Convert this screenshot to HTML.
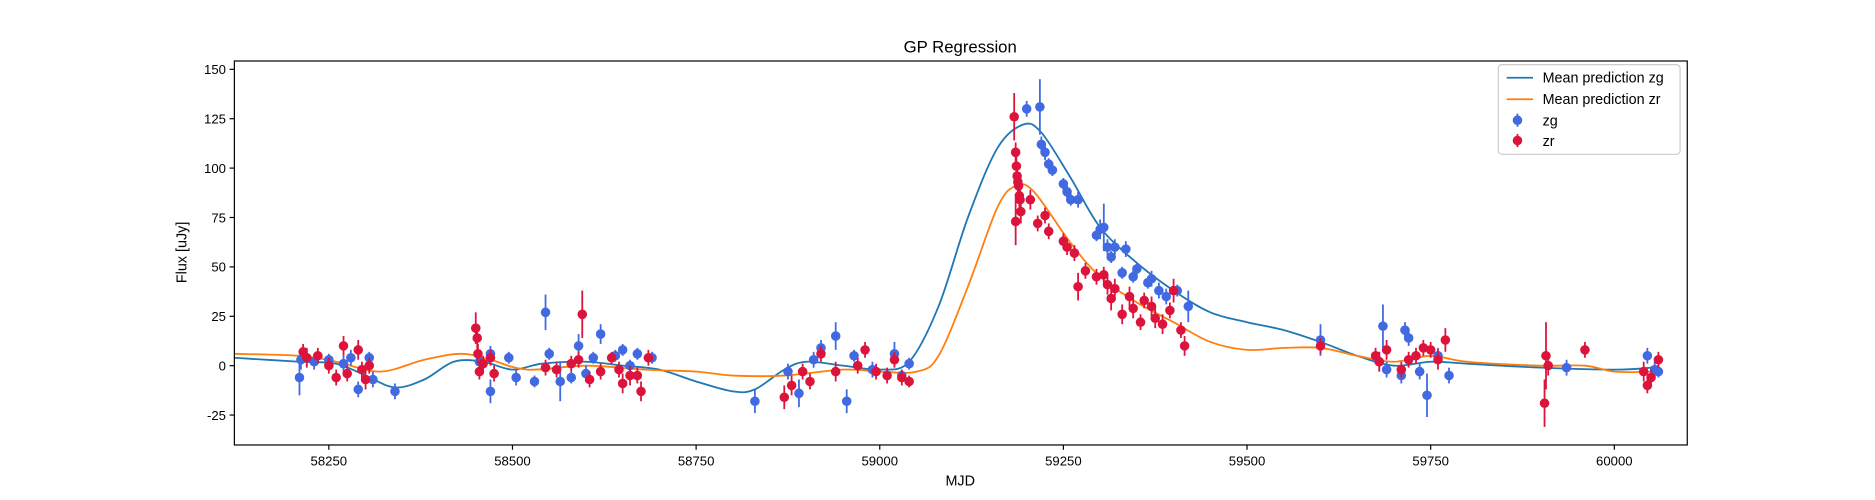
<!DOCTYPE html>
<html><head><meta charset="utf-8"><style>
body{margin:0;background:#fff}
svg{display:block;font-family:"Liberation Sans","DejaVu Sans",sans-serif}
</style></head><body>
<svg id="chart" width="1875" height="500" viewBox="0 0 1568 418" preserveAspectRatio="none">
<rect width="1568" height="418" fill="#fff"/>
<text x="803" y="44" text-anchor="middle" font-size="14">GP Regression</text>
<text x="803" y="406" text-anchor="middle" font-size="12">MJD</text>
<text transform="translate(156,211) rotate(-90)" text-anchor="middle" font-size="12">Flux [uJy]</text>
<g id="ticks"></g>
<g id="curves"></g>
<g id="points"></g>
<rect x="196" y="51" width="1215" height="321" fill="none" stroke="#000" stroke-width="1"/>
<g>
<rect x="1253" y="54" width="152" height="75" rx="3" fill="#fff" stroke="#ccc"/>
<line x1="1260" y1="65" x2="1282" y2="65" stroke="#1f77b4" stroke-width="1.5"/>
<text x="1290" y="69" font-size="12">Mean prediction zg</text>
<line x1="1260" y1="83" x2="1282" y2="83" stroke="#ff7f0e" stroke-width="1.5"/>
<text x="1290" y="87" font-size="12">Mean prediction zr</text>
<line x1="1269" y1="95" x2="1269" y2="106" stroke="#4169e1" stroke-width="1.5"/><circle cx="1269" cy="100.5" r="4" fill="#4169e1"/>
<text x="1290" y="105" font-size="12">zg</text>
<line x1="1269" y1="112" x2="1269" y2="123" stroke="#dc143c" stroke-width="1.5"/><circle cx="1269" cy="117.5" r="4" fill="#dc143c"/>
<text x="1290" y="122" font-size="12">zr</text>
</g>
</svg>
<script>
const xTicks=[58250,58500,58750,59000,59250,59500,59750,60000];
const yTicks=[-25,0,25,50,75,100,125,150];
const gpZgX=[58121,58210,58260,58300,58340,58380,58420,58460,58500,58540,58600,58650,58700,58750,58800,58830,58870,58900,58950,59000,59040,59080,59120,59160,59195,59220,59260,59300,59350,59400,59450,59500,59550,59600,59650,59700,59750,59800,59900,60000,60050,60060];
const gpZgY=[4,2,1,-5,-11,-7,2,2,-2,1,2,0,-2,-8,-13,-12,-2,2,0,-2,2,30,75,110,122,118,95,70,52,38,27,22,18,12,5,0,2,1,-1,-2,-1,0];
const gpZrX=[58121,58210,58260,58320,58380,58430,58470,58520,58600,58680,58750,58800,58870,58950,59000,59050,59080,59120,59160,59185,59210,59260,59300,59350,59400,59450,59500,59550,59600,59650,59700,59750,59800,59900,59960,60000,60050,60060];
const gpZrY=[6,5,2,-3,3,6,3,-2,0,-2,-3,-5,-5,-2,-3,-3,5,40,80,91,88,62,45,32,22,12,8,9,9,5,2,5,2,0,0,-3,-3,-2];
const zgMjd=[58210,58212,58230,58250,58270,58280,58290,58305,58310,58340,58455,58470,58470,58495,58505,58530,58545,58550,58565,58580,58590,58600,58610,58620,58640,58650,58660,58670,58690,58830,58875,58890,58910,58920,58940,58955,58965,58990,59020,59030,59040,59200,59218,59220,59225,59230,59235,59250,59255,59260,59270,59295,59300,59305,59310,59315,59320,59330,59335,59345,59350,59365,59370,59380,59390,59405,59420,59600,59680,59685,59690,59710,59715,59720,59735,59745,59760,59775,59935,60045,60055,60060];
const zgFlux=[-6,3,2,3,1,4,-12,4,-7,-13,2,6,-13,4,-6,-8,27,6,-8,-6,10,-4,4,16,5,8,0,6,4,-18,-3,-14,3,9,15,-18,5,-2,6,-5,1,130,131,112,108,102,99,92,88,84,84,66,69,70,60,55,60,47,59,45,49,42,44,38,35,38,30,13,2,20,-2,-5,18,14,-3,-15,5,-5,-1,5,-2,-3];
const zgErr=[9,5,4,3,4,4,4,3,4,4,4,4,6,3,4,3,9,3,10,3,6,4,3,5,3,3,3,3,3,6,4,7,4,4,7,6,3,4,6,3,3,4,14,4,4,3,3,3,3,3,4,3,5,12,4,3,4,3,4,3,3,3,4,4,4,3,8,8,5,11,4,4,4,4,4,11,4,4,4,4,4,3];
const zrMjd=[58215,58220,58235,58250,58260,58270,58275,58290,58295,58300,58305,58450,58452,58453,58455,58460,58470,58475,58545,58560,58580,58590,58595,58605,58620,58635,58645,58650,58660,58670,58675,58685,58870,58880,58895,58905,58920,58940,58970,58980,58995,59010,59020,59030,59040,59183,59185,59186,59187,59188,59189,59190,59191,59192,59185,59205,59215,59225,59230,59250,59255,59265,59270,59280,59295,59305,59310,59315,59320,59330,59340,59345,59355,59360,59370,59375,59385,59395,59400,59410,59415,59600,59675,59680,59690,59710,59720,59730,59740,59750,59760,59770,59905,59907,59910,59960,60040,60045,60050,60060];
const zrFlux=[7,4,5,0,-6,10,-4,8,-2,-7,0,19,14,6,-3,1,4,-4,-1,-2,1,3,26,-7,-3,4,-2,-9,-5,-5,-13,4,-16,-10,-3,-8,6,-3,0,8,-3,-5,3,-6,-8,126,108,101,96,93,91,86,84,78,73,84,72,76,68,63,60,57,40,48,45,46,41,34,39,26,35,29,22,33,30,24,21,28,38,18,10,10,5,2,8,-2,3,5,9,8,3,13,-19,5,0,8,-3,-10,-6,3];
const zrErr=[4,5,4,4,4,5,4,5,4,5,4,8,7,5,4,4,4,4,4,4,4,4,12,4,4,3,4,5,5,4,5,4,6,5,4,4,4,5,4,4,4,4,4,4,3,12,5,6,7,5,4,6,5,6,12,5,4,4,4,4,4,4,7,4,4,4,5,6,5,5,5,5,4,4,5,5,5,4,6,4,5,4,4,5,5,4,4,4,4,4,5,6,12,17,5,4,5,4,4,4];

const NS='http://www.w3.org/2000/svg';
const X0=196,X1=1411,Y0=51,Y1=372;
const xs=v=>275+(v-58250)*(1075/1750);
const ys=v=>305.7-v*(41.29/25);
function mk(tag,attrs,parent){const e=document.createElementNS(NS,tag);for(const k in attrs)e.setAttribute(k,attrs[k]);parent.appendChild(e);return e;}
const tg=document.getElementById('ticks');
xTicks.forEach(t=>{const x=xs(t);
  const l=mk('line',{x1:x,y1:Y1,x2:x,y2:Y1+4,stroke:'#000'},tg);
  
  
  const tx=mk('text',{x:x,y:Y1+17,'text-anchor':'middle','font-size':11},tg);tx.textContent=t;
  
  
});
yTicks.forEach(t=>{const y=ys(t);
  const l=mk('line',{x1:X0-4,y1:y,x2:X0,y2:y,stroke:'#000'},tg);
  
  
  const tx=mk('text',{x:X0-7,y:y+4,'text-anchor':'end','font-size':11},tg);tx.textContent=t;
  
  
});
function curve(xa,ya,color,name){
  const p=xa.map((v,i)=>[xs(v),ys(ya[i])]);
  let d='M'+p[0][0]+','+p[0][1];
  for(let i=0;i<p.length-1;i++){const a=p[Math.max(0,i-1)],b=p[i],c=p[i+1],e=p[Math.min(p.length-1,i+2)];
    d+=' C'+(b[0]+(c[0]-a[0])/6)+','+(b[1]+(c[1]-a[1])/6)+' '+(c[0]-(e[0]-b[0])/6)+','+(c[1]-(e[1]-b[1])/6)+' '+c[0]+','+c[1];}
  const path=mk('path',{d:d,fill:'none',stroke:color,'stroke-width':1.5},document.getElementById('curves'));
  
  
}
curve(gpZgX,gpZgY,'#1f77b4','gp-mean-zg');
curve(gpZrX,gpZrY,'#ff7f0e','gp-mean-zr');
function pts(mx,fl,er,color,name){
  const g=document.getElementById('points');
  mx.forEach((m,i)=>{const x=xs(m),y=ys(fl[i]);
    const l=mk('line',{x1:x,y1:ys(fl[i]+er[i]),x2:x,y2:ys(fl[i]-er[i]),stroke:color,'stroke-width':1.5},g);
    
    
    const c=mk('circle',{cx:x,cy:y,r:4,fill:color},g);
    
    
  });
}
pts(zgMjd,zgFlux,zgErr,'#4169e1','zg');
pts(zrMjd,zrFlux,zrErr,'#dc143c','zr');
</script>
</body></html>
